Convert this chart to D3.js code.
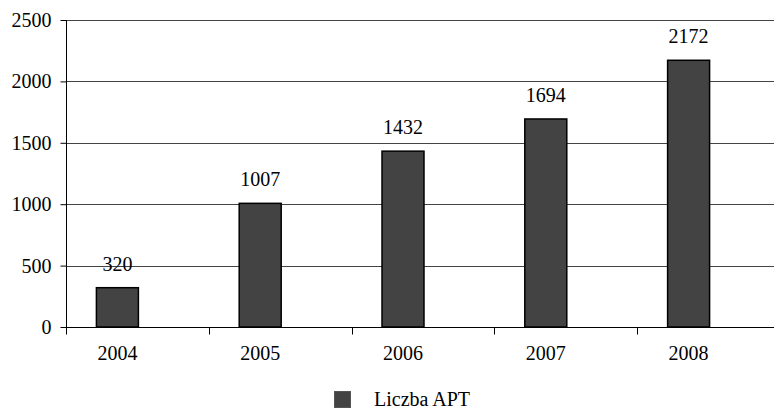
<!DOCTYPE html>
<html><head><meta charset="utf-8">
<script src="https://cdn.jsdelivr.net/npm/d3@7"></script>
<style>body{margin:0;background:#fff}svg{display:block}</style>
</head><body><svg id="c" width="774" height="410"></svg>
<script>
const categories = ["2004","2005","2006","2007","2008"];
const values = [320,1007,1432,1694,2172];
const yTicks = [0,500,1000,1500,2000,2500];
const seriesName = "Liczba APT";

const FONT = "'Liberation Serif','Times New Roman',Times,serif";
const svg = d3.select("#c");
const fs = 20;
const y = d3.scaleLinear().domain([0,2500]).range([327,20]);
const xAxisBand = d3.scaleBand().domain(categories).range([66,780]);
const xBar = d3.scaleBand().domain(categories).range([46,760]).paddingInner(0.706).paddingOuter(0.353);

// gridlines
svg.append("g").selectAll("line").data(yTicks.filter(d=>d>0)).join("line")
  .attr("x1",66).attr("x2",774).attr("y1",d=>Math.round(y(d))+0.5).attr("y2",d=>Math.round(y(d))+0.5)
  .attr("stroke","#444").attr("stroke-width",1);

// y axis
const ya = svg.append("g").attr("transform","translate(66.5,0)")
  .call(d3.axisLeft(y).tickValues(yTicks).tickFormat(d3.format("d")).tickSize(6).tickPadding(9));
ya.attr("font-family",FONT).attr("font-size",fs);
ya.select(".domain").attr("stroke","#000").attr("d","M0,"+y(2500)+"V"+(y(0)+7));
ya.selectAll(".tick line").attr("stroke","#000");
ya.selectAll("text").style("font-family",FONT).style("font-size",fs+"px").attr("fill","#000");

// bars
svg.append("g").selectAll("rect").data(values).join("rect")
  .attr("x",(d,i)=>xBar(categories[i]))
  .attr("y",d=>y(d))
  .attr("width",xBar.bandwidth())
  .attr("height",d=>y(0)-y(d))
  .attr("fill","#434343").attr("stroke","#000").attr("stroke-width",1.5);

// x axis
const xa = svg.append("g").attr("transform","translate(0,"+(Math.round(y(0))+0.5)+")");
xa.append("line").attr("x1",66).attr("x2",774).attr("stroke","#000");
xa.selectAll("line.t").data(categories).join("line").attr("class","t")
  .attr("x1",d=>Math.round(xAxisBand(d))+0.5).attr("x2",d=>Math.round(xAxisBand(d))+0.5)
  .attr("y1",0).attr("y2",7).attr("stroke","#000");
xa.selectAll("text").data(categories).join("text")
  .attr("x",d=>xBar(d)+xBar.bandwidth()/2).attr("y",32)
  .attr("text-anchor","middle").style("font-family",FONT).style("font-size",fs+"px").attr("fill","#000").text(d=>d);

// value labels
svg.append("g").selectAll("text").data(values).join("text")
  .attr("x",(d,i)=>xBar(categories[i])+xBar.bandwidth()/2)
  .attr("y",d=>y(d)-17)
  .attr("text-anchor","middle").style("font-family",FONT).style("font-size",fs+"px").attr("fill","#000").text(d=>d);

// legend
const lg = svg.append("g");
lg.append("rect").attr("x",334.5).attr("y",391.5).attr("width",16).attr("height",16)
  .attr("fill","#434343").attr("stroke","#555").attr("stroke-width",1);
lg.append("text").attr("x",374).attr("y",406).style("font-family",FONT).style("font-size",fs+"px").attr("fill","#000").text(seriesName);
</script></body></html>
